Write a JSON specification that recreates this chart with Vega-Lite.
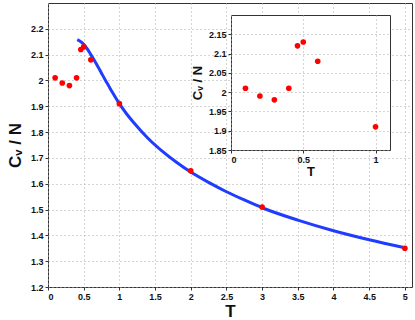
{
  "$schema": "https://vega.github.io/schema/vega-lite/v6.json",
  "padding": {"left": 5, "top": 2, "right": 0, "bottom": 0},
  "background": "white",
  "columns": 2,
  "align": "none",
  "bounds": "flush",
  "spacing": {"column": -181, "row": 0},
  "datasets": {
    "points": [
      {"T": 0.1, "C": 2.01},
      {"T": 0.2, "C": 1.99},
      {"T": 0.3, "C": 1.98},
      {"T": 0.4, "C": 2.01},
      {"T": 0.46, "C": 2.12},
      {"T": 0.5, "C": 2.13},
      {"T": 0.6, "C": 2.08},
      {"T": 1.0, "C": 1.91},
      {"T": 2.0, "C": 1.65},
      {"T": 3.0, "C": 1.51},
      {"T": 5.0, "C": 1.35}
    ],
    "curve": [
      {"T": 0.41, "C": 2.158},
      {"T": 0.45, "C": 2.152},
      {"T": 0.5, "C": 2.14},
      {"T": 0.55, "C": 2.122},
      {"T": 0.6, "C": 2.1},
      {"T": 0.65, "C": 2.077},
      {"T": 0.7, "C": 2.053},
      {"T": 0.75, "C": 2.028},
      {"T": 0.8, "C": 2.003},
      {"T": 0.85, "C": 1.979},
      {"T": 0.9, "C": 1.955},
      {"T": 0.95, "C": 1.932},
      {"T": 1.0, "C": 1.91},
      {"T": 1.1, "C": 1.871},
      {"T": 1.2, "C": 1.837},
      {"T": 1.4, "C": 1.776},
      {"T": 1.6, "C": 1.726},
      {"T": 1.8, "C": 1.683},
      {"T": 2.0, "C": 1.645},
      {"T": 2.25, "C": 1.605},
      {"T": 2.5, "C": 1.569},
      {"T": 2.75, "C": 1.537},
      {"T": 3.0, "C": 1.507},
      {"T": 3.5, "C": 1.459},
      {"T": 4.0, "C": 1.418},
      {"T": 4.5, "C": 1.383},
      {"T": 5.0, "C": 1.352}
    ]
  },
  "config": {
    "view": {"stroke": "#333", "strokeWidth": 1, "fill": "white"},
    "axis": {
      "labelFont": "Liberation Sans",
      "labelFontWeight": "bold",
      "labelFontSize": 9,
      "labelColor": "#111",
      "labelOverlap": false,
      "format": "~g",
      "titleFont": "Liberation Sans",
      "titleFontWeight": "bold",
      "titleColor": "#111",
      "domain": false,
      "tickColor": "#333",
      "tickSize": 3,
      "labelPadding": 2,
      "grid": true,
      "gridColor": "#aaa",
      "gridDash": [1, 3],
      "gridWidth": 1
    }
  },
  "concat": [
    {
      "width": 364,
      "height": 284,
      "encoding": {
        "x": {"field": "T", "type": "quantitative", "scale": {"domain": [0, 5.1], "nice": false}, "axis": {"values": [0, 0.5, 1, 1.5, 2, 2.5, 3, 3.5, 4, 4.5, 5], "title": "T", "titleFontSize": 17, "titlePadding": 2}},
        "y": {"field": "C", "type": "quantitative", "scale": {"domain": [1.2, 2.3], "nice": false, "zero": false}, "axis": {"values": [1.2, 1.3, 1.4, 1.5, 1.6, 1.7, 1.8, 1.9, 2, 2.1, 2.2], "title": "Cᵥ / N", "titleFontSize": 17, "titlePadding": 6}}
      },
      "layer": [
        {
          "data": {"name": "curve"},
          "mark": {"type": "line", "color": "#1f3cff", "strokeWidth": 3, "interpolate": "monotone"}
        },
        {
          "data": {"name": "points"},
          "mark": {"type": "circle", "color": "#ff0000", "opacity": 1, "size": 32}
        }
      ]
    },
    {
      "columns": 1,
      "align": "none",
      "bounds": "flush",
      "spacing": 0,
      "concat": [
        {
          "width": 159,
          "height": 12,
          "data": {"values": []},
          "mark": {"type": "point", "opacity": 0},
          "view": {"stroke": null, "fill": null}
        },
        {
          "width": 159,
          "height": 135,
          "data": {"name": "points"},
          "transform": [{"filter": "datum.T <= 1"}],
          "mark": {"type": "circle", "color": "#ff0000", "opacity": 1, "size": 32},
          "encoding": {
            "x": {"field": "T", "type": "quantitative", "scale": {"domain": [0, 1.1], "nice": false}, "axis": {"values": [0, 0.5, 1], "title": "T", "titleFontSize": 13, "titlePadding": 1}},
            "y": {"field": "C", "type": "quantitative", "scale": {"domain": [1.85, 2.2], "nice": false, "zero": false}, "axis": {"values": [1.85, 1.9, 1.95, 2, 2.05, 2.1, 2.15], "title": "Cᵥ / N", "titleFontSize": 13, "titlePadding": 4}}
          }
        }
      ]
    }
  ]
}
